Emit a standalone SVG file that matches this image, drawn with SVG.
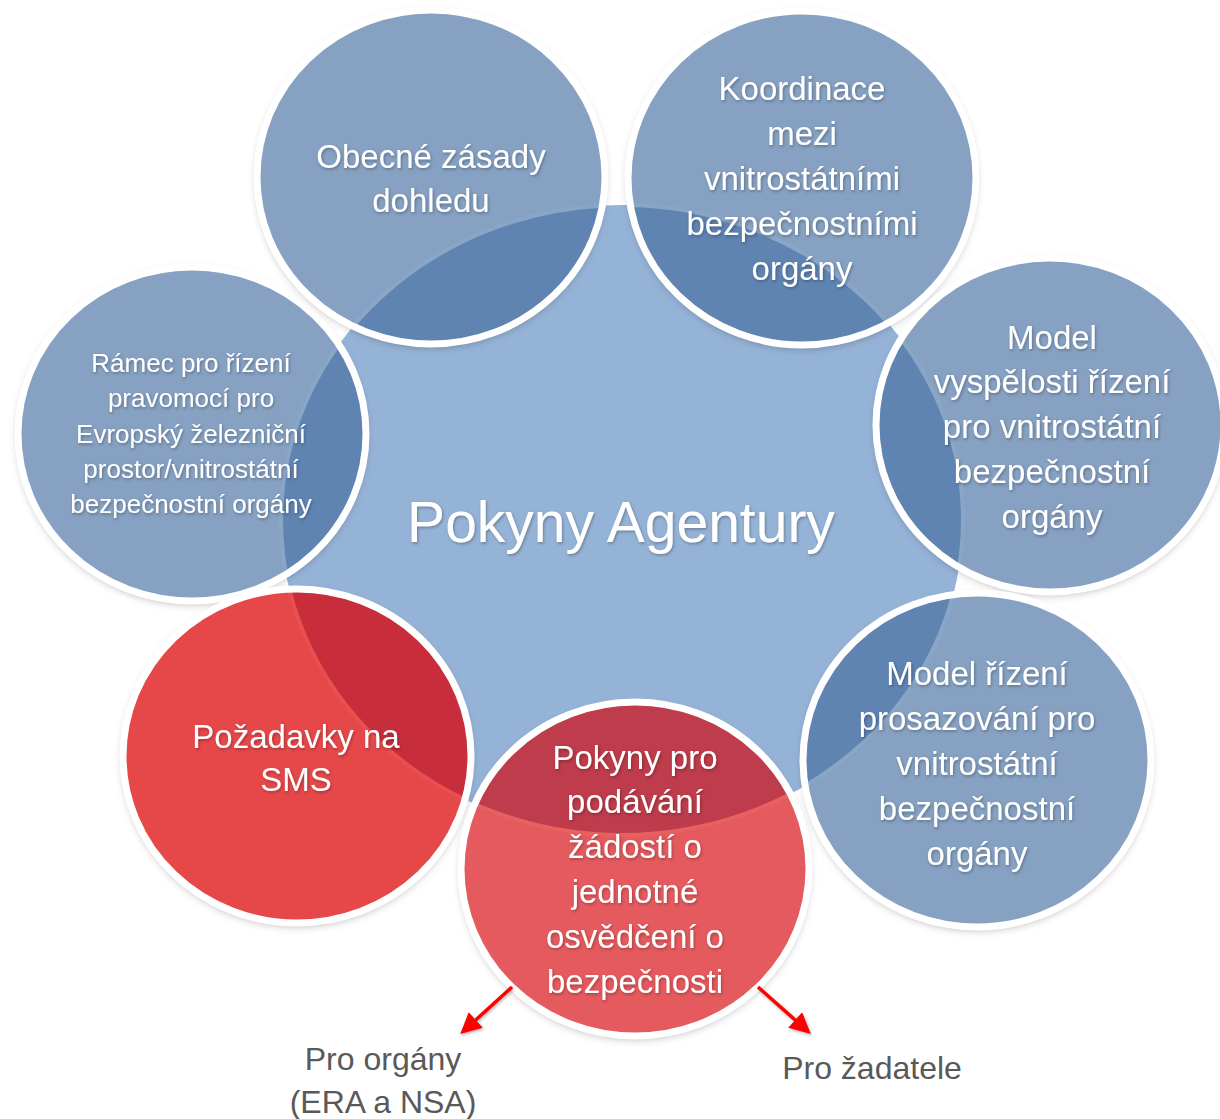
<svg xmlns="http://www.w3.org/2000/svg" width="1220" height="1119" viewBox="0 0 1220 1119">
<style>
.t{font-family:"Liberation Sans","Noto Sans",Arial,sans-serif;fill:#fff;text-anchor:middle;filter:url(#ts)}
.big{font-size:33px}
.small{font-size:26px}
.lbl{font-family:"Liberation Sans","Noto Sans",Arial,sans-serif;fill:#595959;text-anchor:middle;font-size:32px}
.border{fill:none;stroke:#fff;stroke-width:7}
.shadow{fill:#fff;filter:url(#cs)}
.blue{fill:#86A1C2}
.blueov{fill:#5F84B2;stroke:#8AA6C7;stroke-width:4}
.red1{fill:#E6484A}
.red1ov{fill:#C82D3C;stroke:#E8504F;stroke-width:4}
.red2{fill:#E55A5E}
.red2ov{fill:#BE3C4B;stroke:#E8605F;stroke-width:4}
.arrow{stroke:#FF0000;stroke-width:3.5;fill:none;marker-end:url(#ah);filter:url(#ts)}
</style>
<defs>
<filter id="cs" x="-20%" y="-20%" width="140%" height="140%">
<feDropShadow dx="0" dy="3" stdDeviation="4" flood-color="#000" flood-opacity="0.3"/>
</filter>
<filter id="ts" x="-20%" y="-40%" width="140%" height="180%">
<feDropShadow dx="1" dy="1.5" stdDeviation="1.5" flood-color="#000" flood-opacity="0.3"/>
</filter>
<marker id="ah" markerWidth="6" markerHeight="6" refX="3" refY="3" orient="auto" markerUnits="strokeWidth">
<path d="M0,0 L6,3 L0,6 Z" fill="#FF0000"/>
</marker>
<ellipse id="central" cx="622" cy="520" rx="341" ry="315"/>
<clipPath id="c-ramec"><ellipse cx="192" cy="434" rx="174" ry="167"/></clipPath>
<clipPath id="c-obecne"><ellipse cx="431" cy="177" rx="174" ry="167"/></clipPath>
<clipPath id="c-koord"><ellipse cx="802" cy="178" rx="174" ry="167"/></clipPath>
<clipPath id="c-vysp"><ellipse cx="1050" cy="425" rx="174" ry="167"/></clipPath>
<clipPath id="c-sms"><ellipse cx="297" cy="756" rx="174" ry="167"/></clipPath>
<clipPath id="c-rizeni"><ellipse cx="977" cy="760" rx="174" ry="167"/></clipPath>
<clipPath id="c-pokyny"><ellipse cx="635" cy="869" rx="174" ry="167"/></clipPath>
</defs>
<rect width="1220" height="1119" fill="#fff"/>

<g id="node-center">
<ellipse cx="622" cy="520" rx="341" ry="315" fill="#95B3D7"/>
<text class="t" x="621" y="542" font-size="57">Pokyny Agentury</text>
</g>

<g id="node-ramec">
<ellipse class="shadow" cx="192" cy="434" rx="174" ry="167"/>
<ellipse class="blue" cx="192" cy="434" rx="174" ry="167"/>
<g clip-path="url(#c-ramec)"><use href="#central" class="blueov"/></g>
<ellipse class="border" cx="192" cy="434" rx="174" ry="167"/>
<text class="t small"><tspan x="191" y="372">Rámec pro řízení</tspan><tspan x="191" y="407">pravomocí pro</tspan><tspan x="191" y="443">Evropský železniční</tspan><tspan x="191" y="478">prostor/vnitrostátní</tspan><tspan x="191" y="513">bezpečnostní orgány</tspan></text>
</g>

<g id="node-obecne">
<ellipse class="shadow" cx="431" cy="177" rx="174" ry="167"/>
<ellipse class="blue" cx="431" cy="177" rx="174" ry="167"/>
<g clip-path="url(#c-obecne)"><use href="#central" class="blueov"/></g>
<ellipse class="border" cx="431" cy="177" rx="174" ry="167"/>
<text class="t big"><tspan x="431" y="168">Obecné zásady</tspan><tspan x="431" y="212">dohledu</tspan></text>
</g>

<g id="node-koordinace">
<ellipse class="shadow" cx="802" cy="178" rx="174" ry="167"/>
<ellipse class="blue" cx="802" cy="178" rx="174" ry="167"/>
<g clip-path="url(#c-koord)"><use href="#central" class="blueov"/></g>
<ellipse class="border" cx="802" cy="178" rx="174" ry="167"/>
<text class="t big"><tspan x="802" y="100">Koordinace</tspan><tspan x="802" y="145">mezi</tspan><tspan x="802" y="190">vnitrostátními</tspan><tspan x="802" y="235">bezpečnostními</tspan><tspan x="802" y="280">orgány</tspan></text>
</g>

<g id="node-vyspelost">
<ellipse class="shadow" cx="1050" cy="425" rx="174" ry="167"/>
<ellipse class="blue" cx="1050" cy="425" rx="174" ry="167"/>
<g clip-path="url(#c-vysp)"><use href="#central" class="blueov"/></g>
<ellipse class="border" cx="1050" cy="425" rx="174" ry="167"/>
<text class="t big"><tspan x="1052" y="349">Model</tspan><tspan x="1052" y="393">vyspělosti řízení</tspan><tspan x="1052" y="438">pro vnitrostátní</tspan><tspan x="1052" y="483">bezpečnostní</tspan><tspan x="1052" y="528">orgány</tspan></text>
</g>

<g id="node-sms">
<ellipse class="shadow" cx="297" cy="756" rx="174" ry="167"/>
<ellipse class="red1" cx="297" cy="756" rx="174" ry="167"/>
<g clip-path="url(#c-sms)"><use href="#central" class="red1ov"/></g>
<ellipse class="border" cx="297" cy="756" rx="174" ry="167"/>
<text class="t big"><tspan x="296" y="748">Požadavky na</tspan><tspan x="296" y="791">SMS</tspan></text>
</g>

<g id="node-rizeni">
<ellipse class="shadow" cx="977" cy="760" rx="174" ry="167"/>
<ellipse class="blue" cx="977" cy="760" rx="174" ry="167"/>
<g clip-path="url(#c-rizeni)"><use href="#central" class="blueov"/></g>
<ellipse class="border" cx="977" cy="760" rx="174" ry="167"/>
<text class="t big"><tspan x="977" y="685">Model řízení</tspan><tspan x="977" y="730">prosazování pro</tspan><tspan x="977" y="775">vnitrostátní</tspan><tspan x="977" y="820">bezpečnostní</tspan><tspan x="977" y="865">orgány</tspan></text>
</g>

<g id="node-pokyny">
<ellipse class="shadow" cx="635" cy="869" rx="174" ry="167"/>
<ellipse class="red2" cx="635" cy="869" rx="174" ry="167"/>
<g clip-path="url(#c-pokyny)"><use href="#central" class="red2ov"/></g>
<ellipse class="border" cx="635" cy="869" rx="174" ry="167"/>
<text class="t big"><tspan x="635" y="769">Pokyny pro</tspan><tspan x="635" y="813">podávání</tspan><tspan x="635" y="858">žádostí o</tspan><tspan x="635" y="903">jednotné</tspan><tspan x="635" y="948">osvědčení o</tspan><tspan x="635" y="993">bezpečnosti</tspan></text>
</g>

<g id="connectors">
<line class="arrow" x1="512" y1="987" x2="468" y2="1027"/>
<line class="arrow" x1="758" y1="987" x2="803" y2="1027"/>
</g>

<g id="node-labels">
<text class="lbl"><tspan x="383" y="1070">Pro orgány</tspan><tspan x="383" y="1113">(ERA a NSA)</tspan></text>
<text class="lbl" x="872" y="1079">Pro žadatele</text>
</g>
</svg>
